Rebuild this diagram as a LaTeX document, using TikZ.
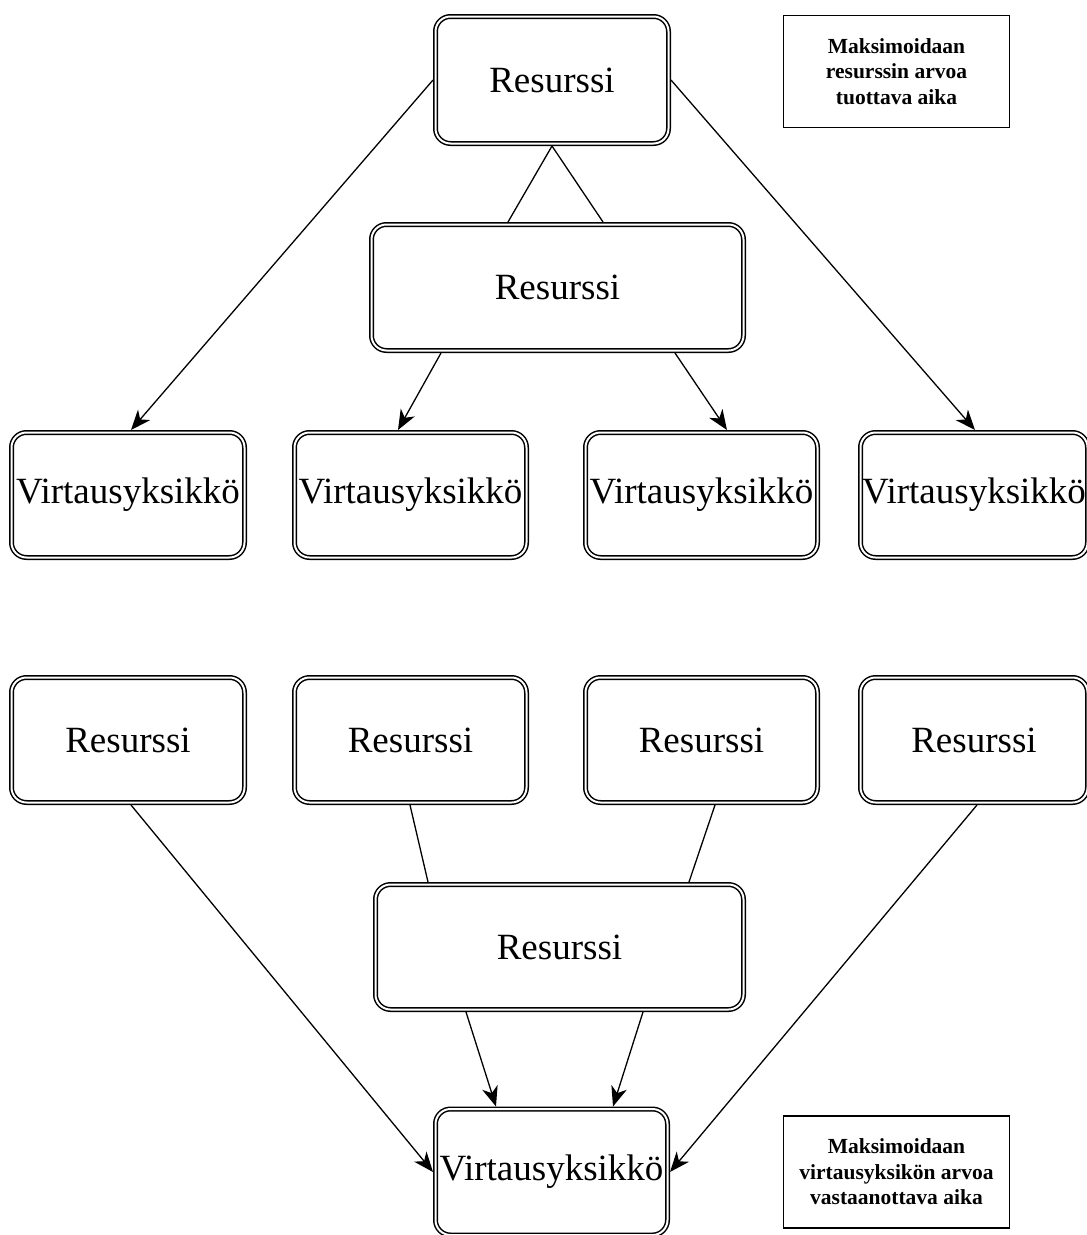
\documentclass[tikz,border=0pt]{standalone}
\usepackage{fontspec}
\setmainfont{Liberation Serif}
\usetikzlibrary{arrows.meta,positioning}
\begin{document}
\begin{tikzpicture}[x=1pt,y=-1pt,
  rbox/.style={draw, double, line width=1.5pt, double distance=2pt, rounded corners=15pt,
    outer sep=2.5pt, inner sep=0pt, align=center, font=\fontsize{37}{40}\selectfont},
  note/.style={draw, line width=1.6pt, minimum width=226pt, minimum height=112pt,
    inner sep=0pt, align=center, font=\fontsize{21.5}{25.5}\selectfont\bfseries},
  conn/.style={line width=1.3pt},
  arr/.style={conn, -{Stealth[length=20pt,width=16pt,inset=6pt]}}
]
\useasboundingbox (0,0) rectangle (1087,1235);

% top part
\node[rbox, minimum width=233pt, minimum height=127pt] (top) at (552,80) {Resurssi};
\node[rbox, minimum width=372pt, minimum height=126pt] (mid) at (557.5,287.5) {Resurssi};
\node[rbox, minimum width=233pt, minimum height=125pt] (v1) at (128,495) {Virtausyksikkö};
\node[rbox, minimum width=232pt, minimum height=125pt] (v2) at (410.5,495) {Virtausyksikkö};
\node[rbox, minimum width=232pt, minimum height=125pt] (v3) at (701.5,495) {Virtausyksikkö};
\node[rbox, minimum width=227pt, minimum height=125pt] (v4) at (974,495) {Virtausyksikkö};
\node[note] (n1) at (896.5,71.5) {Maksimoidaan\\resurssin arvoa\\tuottava aika};

\draw[conn] (top.south) -- ([xshift=-49.5pt]mid.north);
\draw[conn] (top.south) -- ([xshift=45.5pt]mid.north);
\draw[arr] (top.west) -- ([xshift=3pt]v1.north);
\draw[arr] (top.east) -- ([xshift=1pt]v4.north);
\draw[arr] ([xshift=-116.5pt]mid.south) -- ([xshift=-12.5pt]v2.north);
\draw[arr] ([xshift=117.5pt]mid.south) -- ([xshift=25.5pt]v3.north);

% bottom part
\node[rbox, minimum width=233pt, minimum height=125pt] (r1) at (128,740) {Resurssi};
\node[rbox, minimum width=232pt, minimum height=125pt] (r2) at (410.5,740) {Resurssi};
\node[rbox, minimum width=232pt, minimum height=125pt] (r3) at (701.5,740) {Resurssi};
\node[rbox, minimum width=227pt, minimum height=125pt] (r4) at (974,740) {Resurssi};
\node[rbox, minimum width=368pt, minimum height=125pt] (mid2) at (559.5,947) {Resurssi};
\node[rbox, minimum width=232pt, minimum height=126pt] (bv) at (551.5,1172) {Virtausyksikkö};
\node[note] (n2) at (896.5,1172) {Maksimoidaan\\virtausyksikön arvoa\\vastaanottava aika};

\draw[conn] ([xshift=-0.5pt]r2.south) -- ([xshift=-131.5pt]mid2.north);
\draw[conn] ([xshift=13.5pt]r3.south) -- ([xshift=129.5pt]mid2.north);
\draw[arr] ([xshift=3pt]r1.south) -- (bv.west);
\draw[arr] ([xshift=3pt]r4.south) -- (bv.east);
\draw[arr] ([xshift=-93.5pt]mid2.south) -- ([xshift=-55.5pt]bv.north);
\draw[arr] ([xshift=83.5pt]mid2.south) -- ([xshift=61.5pt]bv.north);
\end{tikzpicture}
\end{document}
